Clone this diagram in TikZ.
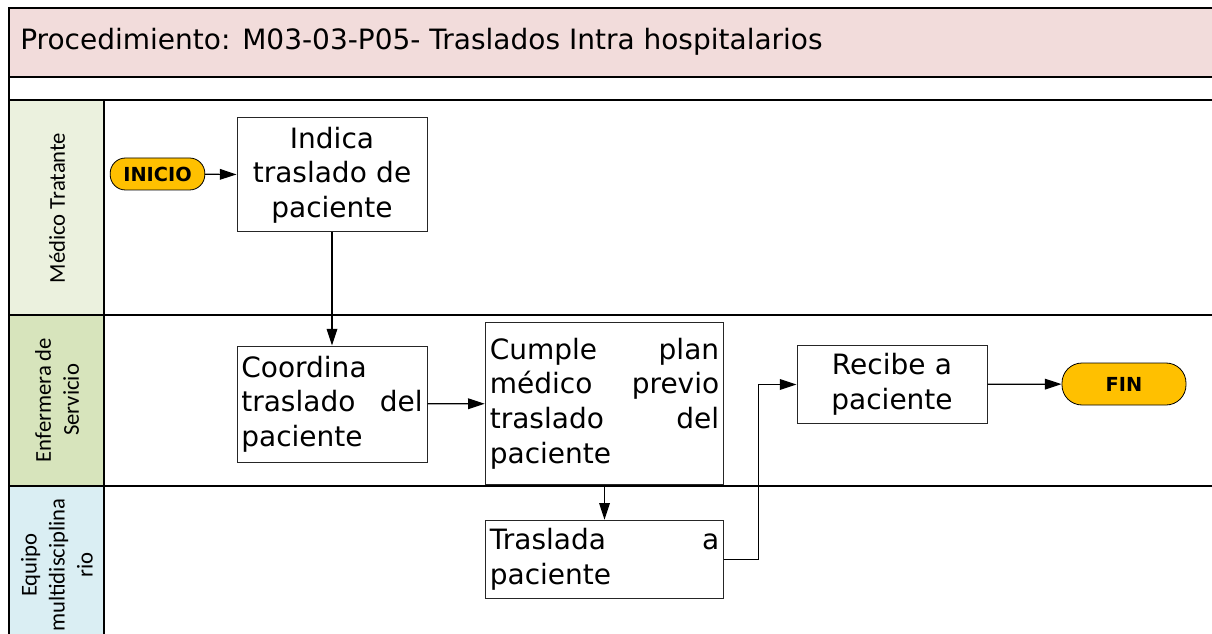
\documentclass[tikz,border=0pt]{standalone}
\usepackage{fontspec}
\setmainfont{DejaVu Sans}
\newfontfamily\lanefont{Carlito}
\usetikzlibrary{arrows.meta}

\definecolor{titlepink}{HTML}{F2DCDB}
\definecolor{lanegreenA}{HTML}{EBF1DE}
\definecolor{lanegreenB}{HTML}{D7E4BC}
\definecolor{laneblue}{HTML}{DAEEF3}
\definecolor{pillorange}{HTML}{FFC000}

\tikzset{
  frame/.style={line width=1.5pt},
  flow/.style={draw, line width=0.9pt, -{Triangle[length=12.5pt,width=8pt]}},
  pill/.style={rectangle, rounded corners=11.5pt, draw, fill=pillorange, line width=0.6pt,
    inner sep=1pt, font=\fontsize{14.5}{17}\selectfont\bfseries},
  taskbox/.style={rectangle, draw=black!85, fill=white, line width=0.75pt,
    inner sep=3pt, font=\fontsize{21}{26}\selectfont}
}

\begin{document}
\begin{tikzpicture}[x=0.75pt,y=-0.75pt]

        \useasboundingbox (0,0) rectangle (1212,634);

        % bands and lanes
        \fill[titlepink] (9,8) rectangle (1212,77);
        \fill[lanegreenA] (9,100) rectangle (104,315);
        \fill[lanegreenB] (9,315) rectangle (104,486);
        \fill[laneblue] (9,486) rectangle (104,634);
        \draw[frame] (1212,8) -- (9,8) -- (9,634);
        \foreach \y in {77,100,315,486}
          \draw[frame] (9,\y) -- (1212,\y);
        \draw[frame] (104,100) -- (104,634);

        \node[anchor=west, inner sep=0pt, font=\fontsize{21}{25}\selectfont] (title) at (20,42)
          {Procedimiento: M03-03-P05- Traslados Intra hospitalarios};

        \begin{scope}[every node/.style={rotate=90, align=center,
            font=\lanefont\fontsize{17}{21}\selectfont}]
          \node (medico)    at (57,208) {Médico Tratante};
          \node (enfermera) at (57,400) {Enfermera de\\Servicio};
          \node (equipo)    at (57,565) {Equipo\\multidisciplina\\rio};
        \end{scope}

        \node[pill, minimum width=71pt, minimum height=24pt] (1) at (157.5,174) {INICIO};
        \node[pill, rounded corners=15pt, minimum width=93pt, minimum height=31.5pt] (7) at (1124,384) {FIN};

        \begin{scope}[every node/.style={taskbox}]
          \node[minimum width=142.5pt, minimum height=85.5pt, text width=136pt, align=center]
            (2) at (332,175) {Indica\\traslado de\\paciente};
          \node[minimum width=142.5pt, minimum height=87pt, text width=136pt, align=left]
            (3) at (332,404) {Coordina\\traslado\hfill del\\paciente};
          \node[minimum width=179pt, minimum height=121pt, text width=172pt, align=left]
            (4) at (604.5,403.5) {Cumple\hfill plan\\médico\hfill previo\\traslado\hfill del\\paciente};
          \node[minimum width=179pt, minimum height=59pt, text width=172pt, align=left]
            (5) at (604.5,559.5) {Traslada\hfill a\\paciente};
          \node[minimum width=142.5pt, minimum height=58pt, text width=136pt, align=center]
            (6) at (892,384.5) {Recibe a\\paciente};
        \end{scope}

        \draw[flow] (1) -- (2);
        \draw[flow] (2) -- (3);
        \draw[flow] (3) -- (4);
        \draw[flow] (4) -- (5);
        \draw[flow] (5.east) -- ++(34,0) |- (6.west);
        \draw[flow] (6) -- (7);

      \end{tikzpicture}
\end{document}
